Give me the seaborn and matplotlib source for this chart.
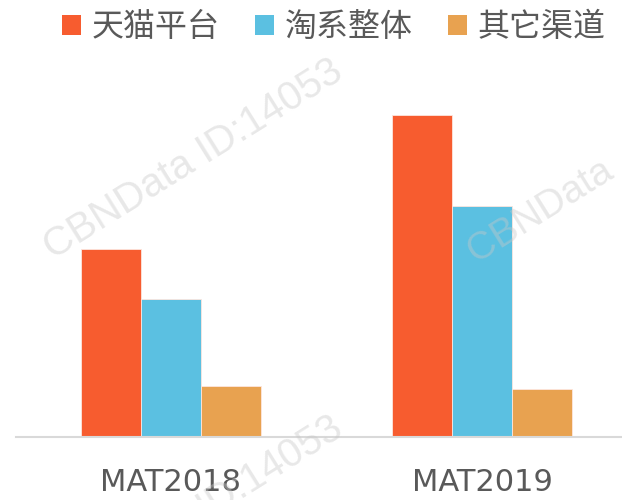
import matplotlib
matplotlib.use("Agg")
import matplotlib.pyplot as plt
import seaborn as sns
import pandas as pd
from matplotlib.patches import Patch

categories = ["MAT2018", "MAT2019"]
series = ["天猫平台", "淘系整体", "其它渠道"]
tmall = [188, 322]
taoxi = [138, 231]
other = [51, 48]
colors = ["#F75C2F", "#5BC0E1", "#E8A250"]

rows = []
for s, vals in zip(series, [tmall, taoxi, other]):
    for c, v in zip(categories, vals):
        rows.append({"cat": c, "series": s, "value": v})
df = pd.DataFrame(rows)

sns.set_theme(style="white")
plt.rcParams['font.family'] = ['Noto Sans CJK SC', 'DejaVu Sans']

fig = plt.figure(figsize=(6.22, 5.0), dpi=100)
ax = fig.add_axes([16/622, 1-437/500, 606/622, 377/500])

sns.barplot(data=df, x="cat", y="value", hue="series", order=categories,
            hue_order=series, palette=dict(zip(series, colors)), width=0.58,
            saturation=1, edgecolor="#fde6de", linewidth=0.6, ax=ax,
            legend=False, zorder=2)

ax.set_ylim(0, 377)
ax.set_xlim(-0.498, 1.450)
ax.set_xlabel("")
ax.set_ylabel("")
ax.set_yticks([])
for sp in ["top", "left", "right"]:
    ax.spines[sp].set_visible(False)
ax.spines["bottom"].set_color("#d9d9d9")
ax.spines["bottom"].set_linewidth(1.5)
ax.tick_params(axis="x", length=0, pad=22.5, labelsize=22, labelcolor="#595959")
for lab in ax.get_xticklabels():
    lab.set_family("DejaVu Sans")

handles = [Patch(facecolor=c, edgecolor="none") for c in colors]
fig.legend(handles, series, loc="center", bbox_to_anchor=(334/622, 1-27/500),
           ncol=3, frameon=False, fontsize=23, labelcolor="#595959",
           handlelength=0.6, handleheight=0.6, handletextpad=0.33,
           columnspacing=1.1, borderaxespad=0, borderpad=0)

# watermarks (semi-transparent, on top)
wm_kw = dict(color="#c8c8c8", alpha=0.42, fontsize=29, rotation=32,
             rotation_mode="anchor", ha="left", va="baseline",
             family="Liberation Sans", zorder=10)
fig.text(53/622, 1-260/500, "CBNData ID:14053", **wm_kw)
fig.text(476/622, 1-263/500, "CBNData", **dict(wm_kw, fontsize=28))
fig.text(53/622, 1-617/500, "CBNData ID:14053", **wm_kw)

fig.savefig("out.png", dpi=100)
